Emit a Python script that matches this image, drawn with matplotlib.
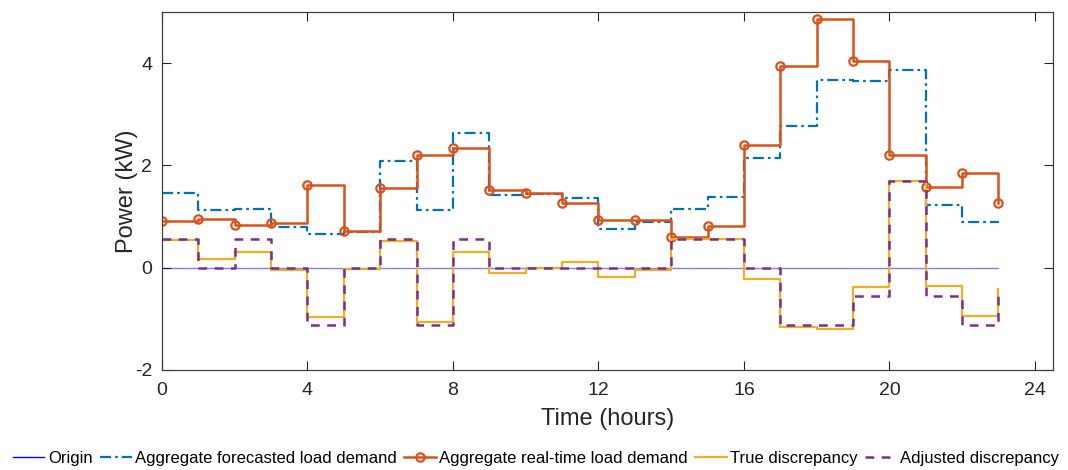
import matplotlib
matplotlib.use('Agg')
import matplotlib.pyplot as plt
import numpy as np

plt.rcParams['font.family'] = ['Liberation Sans', 'DejaVu Sans']
plt.rcParams['axes.unicode_minus'] = False

hours = np.arange(0, 24)
origin = [0] * 24
forecast = [1.47, 1.12, 1.15, 0.80, 0.66, 0.69, 2.08, 1.13, 2.64, 1.42, 1.45, 1.36,
            0.76, 0.89, 1.15, 1.39, 2.15, 2.77, 3.67, 3.65, 3.87, 1.22, 0.90, 0.88]
realtime = [0.92, 0.95, 0.84, 0.88, 1.62, 0.71, 1.56, 2.21, 2.34, 1.52, 1.46, 1.26,
            0.94, 0.94, 0.61, 0.81, 2.39, 3.94, 4.86, 4.04, 2.20, 1.58, 1.85, 1.26]
true_disc = [0.55, 0.17, 0.31, -0.05, -0.97, -0.03, 0.52, -1.07, 0.31, -0.10, 0.0, 0.11,
             -0.18, -0.05, 0.57, 0.57, -0.23, -1.16, -1.19, -0.38, 1.69, -0.36, -0.94, -0.42]
adj_disc = [0.56, 0, 0.56, 0, -1.13, 0, 0.56, -1.12, 0.56, 0, 0, 0,
            0, 0, 0.56, 0.56, 0, -1.13, -1.13, -0.56, 1.69, -0.55, -1.13, -0.41]

fig = plt.figure(figsize=(10.68, 4.7), dpi=100)
ax = fig.add_axes([0.1517, 0.2128, 0.8343, 0.7617])

l0, = ax.step(hours, origin, where='post', color='b', lw=1.0, alpha=0.5, label='Origin')
l1, = ax.step(hours, forecast, where='post', color='#0072BD', lw=1.6,
              dashes=(5, 1.8, 1.2, 1.8), label='Aggregate forecasted load demand')
l2, = ax.step(hours, realtime, where='post', color='#D95319', lw=1.8, marker='o',
              ms=6, mfc='none', mew=1.6, label='Aggregate real-time load demand')
l3, = ax.step(hours, true_disc, where='post', color='#EDB120', lw=1.6, label='True discrepancy')
l4, = ax.step(hours, adj_disc, where='post', color='#7E2F8E', lw=1.8,
              dashes=(3.5, 3), label='Adjusted discrepancy')

ax.set_xlim(0, 24.5)
ax.set_ylim(-2, 5)
ax.set_xticks(np.arange(0, 25, 4))
ax.set_yticks([-2, 0, 2, 4])
ax.tick_params(direction='in', length=6.5, width=0.8, labelsize=14, colors='#262626',
               top=True, right=True)
ax.tick_params(axis='x', pad=9)
ax.tick_params(axis='y', pad=7)
for s in ax.spines.values():
    s.set_color('#404040')
    s.set_linewidth(0.9)

ax.set_xlabel('Time (hours)', fontsize=17, color='#262626', labelpad=6)
ax.set_ylabel('Power (kW)', fontsize=17, color='#262626', labelpad=-2)

leg = fig.legend(handles=[l0, l1, l2, l3, l4], loc='center', bbox_to_anchor=(0.502, 0.025),
                 ncol=5, frameon=False, fontsize=12, handlelength=1.9, handletextpad=0.2,
                 columnspacing=0.45, borderpad=0, borderaxespad=0)
leg.get_lines()[0].set_alpha(1)

fig.savefig('out.png', dpi=100)
